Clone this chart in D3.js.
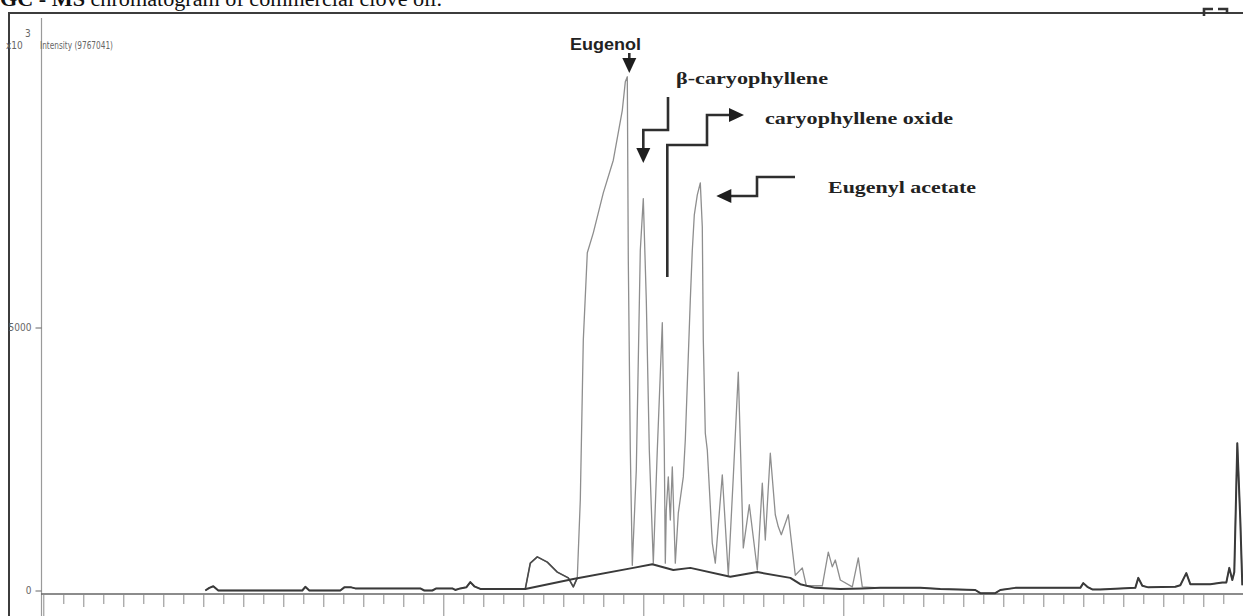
<!DOCTYPE html>
<html>
<head>
<meta charset="utf-8">
<script src="https://cdn.jsdelivr.net/npm/d3@7"></script>
<style>
  body { margin: 0; background: #fff; }
  svg { display: block; }
  .signal   { fill: none; stroke: #8e8e8e; stroke-width: 1.3; stroke-linejoin: round; }
  .low      { fill: none; stroke: #4a4a4a; stroke-width: 1.6; stroke-linejoin: round; }
  .baseline { fill: none; stroke: #3a3a3a; stroke-width: 2; stroke-linejoin: round; }
  .ann      { fill: none; stroke: #2e2e2e; stroke-width: 2.6; }
  .head     { fill: #1e1e1e; }
  .lbl      { font-family: "Liberation Serif", "Times New Roman", serif; font-weight: bold; font-size: 16px; fill: #222; }
  .small    { font-family: "Liberation Sans Narrow", "DejaVu Sans Condensed", sans-serif; font-size: 10px; fill: #666; }
</style>
</head>
<body>
<div id="chart"></div>
<script>
'use strict';

const W = 1243, H = 616;

const TITLE = 'GC - MS chromatogram of commercial clove oil.';
const Y_TITLE = 'Intensity (9767041)';
const Y_TICKS = [0, 5000];
const X_TICKS = d3.range(0, 61);          // unlabeled time ticks
const X_MAJOR = [0, 20, 30, 40];          // the long ticks seen on the axis

// [retention time, intensity x10^3]
const flatLeft = [
  [8.10, 0], [8.30, 50], [8.50, 80], [8.75, 0], [12.95, 0], [13.10, 70], [13.30, 0],
  [14.85, 0], [15.05, 60], [15.40, 60], [15.60, 40], [18.85, 40], [19.05, 0], [19.45, 0],
  [19.65, 40], [20.45, 40], [20.60, 10], [20.85, 40], [21.15, 60], [21.35, 160],
  [21.55, 80], [21.85, 30], [24.10, 30],
];

const hump = [
  [24.10, 30], [24.35, 520], [24.70, 640], [25.20, 540], [25.70, 350], [26.25, 240],
  [26.50, 70], [26.70, 240],
];

const peakRegion = [
  [26.85, 1720], [27.00, 4760], [27.20, 6420], [27.50, 6800], [28.00, 7560],
  [28.50, 8180], [28.95, 9130], [29.10, 9670], [29.20, 9767], [29.25, 6280], [29.35, 2670],
  [29.45, 480], [29.65, 2290], [29.85, 6470], [30.00, 7450], [30.15, 5520], [30.30, 2670],
  [30.50, 520], [30.70, 2670], [30.95, 5090], [31.05, 2670], [31.10, 520], [31.15, 1530],
  [31.25, 2160], [31.35, 1340], [31.45, 2350], [31.60, 520], [31.75, 1470], [32.00, 2160],
  [32.10, 2860], [32.35, 5520], [32.45, 6470], [32.55, 7140], [32.70, 7520], [32.85, 7750],
  [32.95, 6910], [33.00, 4760], [33.10, 2990], [33.20, 2670], [33.45, 900], [33.60, 520],
  [33.95, 2200], [34.25, 290], [34.50, 2160], [34.75, 4150], [35.00, 810], [35.30, 1630],
  [35.70, 390], [35.95, 2040], [36.10, 960], [36.35, 2610], [36.60, 1440], [36.75, 1210],
  [36.90, 1060], [37.25, 1440], [37.60, 290], [37.95, 430], [38.15, 90], [38.95, 90],
  [39.25, 730], [39.45, 450], [39.60, 580], [39.85, 200], [40.45, 70], [40.75, 620],
  [40.95, 70],
];

// straight integration baseline drawn under the peak cluster
const integration = [
  [26.50, 220], [29.50, 430], [30.45, 500], [31.50, 390], [32.35, 430], [34.35, 260],
  [35.70, 350], [37.35, 240], [37.85, 120], [38.60, 50], [39.85, 30], [40.95, 40],
];

const flatRight = [
  [41.85, 50], [43.85, 50], [44.85, 30], [46.60, 10], [46.85, -50], [47.60, -50],
  [47.85, 10], [48.60, 50], [51.85, 50], [52.00, 140], [52.20, 70], [52.45, 20],
  [52.85, 20], [54.60, 50], [54.75, 240], [54.95, 90], [55.25, 60], [56.60, 70],
  [56.85, 100], [57.15, 330], [57.35, 120], [58.35, 120], [58.95, 150], [59.15, 150],
  [59.30, 430], [59.45, 200], [59.55, 350], [59.70, 2800], [59.85, 1340], [59.95, 100],
];

const signal = flatLeft.concat(hump.slice(1), peakRegion, flatRight);
const baseline = flatLeft.concat(integration, flatRight);

const x = d3.scaleLinear().domain([0, 60]).range([43.3, 1243.3]);
const y = d3.scaleLinear().domain([0, 11000]).range([590.5, 11.9]);

const svg = d3.select('#chart').append('svg')
  .attr('width', W).attr('height', H)
  .style('background', '#fff');

// title, cut by the top of the picture
svg.append('text')
  .attr('x', 0).attr('y', 6)
  .attr('font-family', '"Liberation Serif", "Times New Roman", serif')
  .attr('font-size', '20px').attr('fill', '#111')
  .attr('textLength', 442).attr('lengthAdjust', 'spacingAndGlyphs')
  .call(t => {
    t.append('tspan').attr('font-weight', 'bold').text('GC - MS');
    t.append('tspan').text(TITLE.slice(7));
  });

// frame
svg.append('path')
  .attr('d', `M9,616V13H${W}`)
  .attr('fill', 'none').attr('stroke', '#3c3c3c').attr('stroke-width', 2);
svg.append('path')
  .attr('d', 'M1204,16V9H1213M1218,9H1227V14')
  .attr('fill', 'none').attr('stroke', '#333').attr('stroke-width', 2.6);

// y axis
svg.append('line')
  .attr('x1', 41.5).attr('x2', 41.5).attr('y1', 18).attr('y2', H)
  .attr('stroke', '#9a9a9a').attr('stroke-width', 1.2);

const yAxis = svg.append('g')
  .attr('transform', 'translate(41.5,0)')
  .call(d3.axisLeft(y).tickValues(Y_TICKS).tickSize(6).tickPadding(4).tickFormat(d3.format('d')));
yAxis.select('.domain').remove();
yAxis.selectAll('line').attr('stroke', '#666');
yAxis.selectAll('text').attr('class', 'small').attr('font-family', null).attr('font-size', null);

svg.append('text').attr('class', 'small').attr('x', 6).attr('y', 49).text('x10');
svg.append('text').attr('class', 'small').attr('x', 25).attr('y', 37).attr('font-size', '7px').text('3');
svg.append('text').attr('class', 'small')
  .attr('x', 40).attr('y', 49)
  .attr('textLength', 73).attr('lengthAdjust', 'spacingAndGlyphs')
  .text(Y_TITLE);

// x axis
const xAxis = svg.append('g')
  .attr('transform', 'translate(0,594)')
  .call(d3.axisBottom(x).tickValues(X_TICKS).tickFormat('').tickSizeOuter(0));
xAxis.select('.domain').attr('d', `M41,0H${W}`).attr('stroke', '#666').attr('stroke-width', 1.4);
xAxis.selectAll('.tick line')
  .attr('stroke', '#8a8a8a')
  .attr('y2', d => X_MAJOR.includes(d) ? 22 : (d % 2 === 0 ? 13 : 10));

// traces
const line = d3.line().x(d => x(d[0])).y(d => y(d[1]));

svg.append('path').datum(signal).attr('class', 'signal').attr('d', line);
svg.append('path').datum(hump).attr('class', 'low').attr('d', line);
svg.append('path').datum(baseline).attr('class', 'baseline').attr('d', line);

// annotations
function arrowHead(tx, ty, dir) {
  const L = 15, Hw = 7;
  let pts;
  if (dir === 'down')  pts = [[tx, ty], [tx - Hw, ty - L], [tx + Hw, ty - L]];
  if (dir === 'right') pts = [[tx, ty], [tx - L, ty - Hw], [tx - L, ty + Hw]];
  if (dir === 'left')  pts = [[tx, ty], [tx + L, ty - Hw], [tx + L, ty + Hw]];
  svg.append('path').attr('class', 'head').attr('d', 'M' + pts.join('L') + 'Z');
}
const ann = svg.append('g');

// Eugenol
const xe = x(29.20) + 2;
svg.append('text')
  .attr('x', 570).attr('y', 50)
  .attr('font-family', '"Liberation Sans", Arial, sans-serif')
  .attr('font-weight', 'bold').attr('font-size', '16px').attr('fill', '#222')
  .attr('textLength', 71).attr('lengthAdjust', 'spacingAndGlyphs')
  .text('Eugenol');
ann.append('path').attr('class', 'ann').attr('d', `M${xe},53V60`);
arrowHead(xe, 73, 'down');

// beta-caryophyllene
const xb = x(30.00);
svg.append('text').attr('class', 'lbl')
  .attr('x', 676).attr('y', 84)
  .attr('textLength', 152).attr('lengthAdjust', 'spacingAndGlyphs')
  .text('β-caryophyllene');
ann.append('path').attr('class', 'ann').attr('d', `M668,97V130H${xb}V149`);
arrowHead(xb, 163, 'down');

// caryophyllene oxide
const xo = x(31.20);
svg.append('text').attr('class', 'lbl')
  .attr('x', 765).attr('y', 124)
  .attr('textLength', 188).attr('lengthAdjust', 'spacingAndGlyphs')
  .text('caryophyllene oxide');
ann.append('path').attr('class', 'ann').attr('d', `M${xo},277V145H707V115H730`);
arrowHead(744, 115, 'right');

// Eugenyl acetate
const xa = x(32.85) + 16;
svg.append('text').attr('class', 'lbl')
  .attr('x', 828).attr('y', 193)
  .attr('textLength', 148).attr('lengthAdjust', 'spacingAndGlyphs')
  .text('Eugenyl acetate');
ann.append('path').attr('class', 'ann').attr('d', `M795,177H757V196H${xa + 13}`);
arrowHead(xa, 196, 'left');
</script>
</body>
</html>
